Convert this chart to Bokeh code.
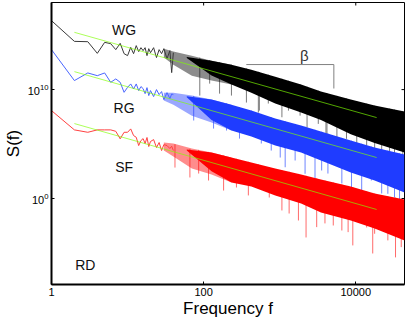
import numpy as np
from bokeh.plotting import figure
from bokeh.models import FixedTicker, NumeralTickFormatter, LogTickFormatter, Range1d, Label
from bokeh.embed import file_html
from bokeh.resources import INLINE

# ---- axes ----
x_ticks = [1, 100, 10000]
y_ticks = [1, 1e10]
x_lim = [1, 43700]
y_lim_exp = [-7.9, 18.0]

# ---- low-frequency part (individual points), log10 S ----
low_freq = [1, 2, 3, 4, 5, 6, 7, 8, 9, 10, 11, 12, 13, 14, 15,
            16, 17, 18, 19, 20, 22, 24, 26, 28, 30, 33, 36, 38, 40]
wg_low = [16.33, 14.43, 14.40, 13.33, 14.34, 14.22, 13.67, 14.25, 13.30, 13.12, 13.88, 13.30, 14.04, 13.49, 13.85,
          13.58, 13.85, 13.12, 13.76, 13.39, 13.85, 12.94, 13.67, 13.30, 13.76, 12.84, 13.58, 11.56, 13.39]
rg_low = [13.67, 10.83, 11.53, 11.28, 11.53, 10.67, 10.98, 10.67, 9.75, 10.21, 10.52, 10.06, 10.52, 9.91, 10.28,
          10.09, 9.63, 10.18, 9.45, 9.91, 9.36, 10.00, 9.54, 9.82, 9.08, 9.72, 9.17, 9.60, 9.54]
sf_low = [8.07, 6.30, 6.08, 6.30, 6.30, 6.30, 6.17, 5.48, 6.08, 6.08, 6.39, 5.78, 5.62, 4.86, 5.32,
          5.50, 5.05, 5.60, 4.77, 5.23, 5.41, 4.68, 5.14, 4.40, 4.95, 4.86, 4.59, 4.80, 4.40]

# ---- sparse part (30 < f < 250): envelope of the zigzag, log10 S ----
sparse_freq = [30, 40, 70, 127, 232]
wg_sp_top = [13.76, 13.49, 13.12, 12.66, 12.29]
wg_sp_bot = [12.94, 12.29, 11.28, 10.83, 10.46]
rg_sp_top = [9.72, 9.70, 9.45, 9.08, 8.62]
rg_sp_bot = [9.00, 8.60, 7.61, 6.97, 6.24]
sf_sp_top = [5.14, 5.05, 4.59, 4.22, 3.76]
sf_sp_bot = [4.40, 3.85, 2.75, 2.20, 1.47]

# ---- dense part: envelope of the noisy spectra, log10 S ----
band_freq = [60, 127, 232, 424, 874, 1910, 3485, 8600, 17700, 43700]
wg_top = [13.00, 12.66, 12.29, 11.83, 11.19, 10.46, 9.82, 9.08, 8.53, 7.98]
wg_bot = [12.90, 11.30, 10.46, 9.72, 8.72, 7.89, 7.20, 5.90, 5.10, 4.22]
rg_top = [9.40, 9.08, 8.62, 8.07, 7.34, 6.70, 6.15, 5.32, 4.68, 4.04]
rg_bot = [9.30, 7.20, 6.24, 5.69, 4.86, 4.22, 3.49, 2.39, 1.65, 0.55]
sf_top = [4.50, 4.22, 3.76, 3.30, 2.75, 2.20, 1.74, 1.10, 0.46, -0.09]
sf_bot = [4.40, 2.50, 1.47, 1.10, 0.28, -0.46, -1.28, -2.02, -2.75, -3.85]

# ---- downward spikes (frequency, log10 S of the spike tip) ----
wg_spike_f = [89, 120, 162, 232, 365, 524, 540, 708, 1069, 1303, 1853, 2288, 3215, 4055, 4180, 5650, 7550,
              10300, 13900, 17700, 21900, 27800, 32300, 41500]
wg_spike_s = [9.45, 10.55, 9.63, 9.45, 8.81, 7.89, 8.07, 8.72, 7.46, 8.07, 7.61, 6.51, 6.85, 5.05, 5.78, 4.40, 5.48,
              4.40, 4.86, 4.40, 3.49, 4.10, 2.84, 3.49]
rg_spike_f = [74, 135, 200, 296, 424, 573, 774, 1016, 1180, 1595, 2155, 2911, 3560, 4305, 6560, 8790,
              11960, 16000, 21900, 26400, 32300, 37600]
rg_spike_s = [7.16, 6.42, 6.24, 5.50, 5.96, 5.05, 4.40, 3.76, 2.87, 3.49, 2.27, 1.47, 2.57, 2.29, 1.38, 1.04,
              0.73, 1.65, 0.46, 0.43, 0.09, -0.18]
sf_spike_f = [42, 66, 86, 116, 183, 270, 387, 524, 729, 1069, 1330, 1762, 2220, 3063, 3935, 5060, 6560, 7930,
              9140, 13900, 16700, 17700, 26400, 33300, 39600]
sf_spike_s = [2.84, 1.93, 2.29, 1.65, 0.73, 1.01, 0.28, 1.01, 0.09, -1.10, -1.38, -2.02, -3.58, -2.63, -2.29,
              -2.48, -2.94, -3.09, -4.31, -2.66, -5.05, -3.24, -3.85, -5.41, -4.47]

# ---- power-law fits (end points), log10 S ----
fit_freq = [2, 18800]
wg_fit = [15.26, 7.43]
rg_fit = [11.65, 3.76]
sf_fit = [6.88, -1.01]

# ---- beta bracket ----
beta_f = [364, 5150, 5150]
beta_s = [12.3, 12.3, 10.1]
beta_label_pos = [2100, 13.1]

# ---- curve labels ----
labels = ["WG", "RG", "SF", "RD"]
label_f = [9, 9, 9, 2.78]
label_s = [15.5, 8.35, 2.85, -6.15]

FONT = "Liberation Sans"

p = figure(width=409, height=322, x_axis_type="log", y_axis_type="log",
           x_range=Range1d(x_lim[0], x_lim[1]),
           y_range=Range1d(10 ** y_lim_exp[0], 10 ** y_lim_exp[1]),
           output_backend="svg", toolbar_location=None,
           min_border_left=49, min_border_right=5, min_border_top=2, min_border_bottom=38)
p.grid.visible = False
p.outline_line_color = "black"
p.outline_line_width = 1
p.background_fill_color = "white"
p.border_fill_color = "white"

def style_axis(ax):
    ax.major_tick_in = 3
    ax.major_tick_out = 0
    ax.minor_tick_line_color = None
    ax.axis_line_width = 2
    ax.major_tick_line_width = 1
    ax.axis_line_color = "black"
    ax.major_label_text_font = FONT
    ax.major_label_text_font_size = "11px"
    ax.major_label_text_color = "black"
    ax.axis_label_text_font = FONT
    ax.axis_label_text_font_style = "normal"
    ax.axis_label_text_font_size = "17px"
    ax.axis_label_text_color = "black"

xa = p.xaxis[0]
xa.ticker = FixedTicker(ticks=x_ticks)
xa.formatter = NumeralTickFormatter(format="0")
style_axis(xa)
xa.axis_label = "Frequency f"
xa.major_label_standoff = 3
xa.axis_label_standoff = 0

ya = p.yaxis[0]
ya.ticker = FixedTicker(ticks=y_ticks)
ya.formatter = LogTickFormatter()
style_axis(ya)
ya.axis_label = "S(f)"
ya.major_label_standoff = 3
ya.axis_label_standoff = 2

# mirrored inward ticks on the top and right edges (half of each dash is clipped by the frame)
p.scatter(x=x_ticks, y=[10 ** y_lim_exp[1]] * len(x_ticks), marker="dash", angle=np.pi / 2,
          size=6, line_color="black", line_width=1)
p.scatter(x=[x_lim[1]] * len(y_ticks), y=y_ticks, marker="dash",
          size=6, line_color="black", line_width=1)

series = [
    (wg_low, wg_sp_top, wg_sp_bot, wg_top, wg_bot, wg_spike_f, wg_spike_s, "#000000", "#3a3a3a", "#7a7a7a"),
    (rg_low, rg_sp_top, rg_sp_bot, rg_top, rg_bot, rg_spike_f, rg_spike_s, "#1f3cff", "#4a66ff", "#6f86ff"),
    (sf_low, sf_sp_top, sf_sp_bot, sf_top, sf_bot, sf_spike_f, sf_spike_s, "#ff0000", "#ff4040", "#ff6a6a"),
]
lbf = np.log10(band_freq + sparse_freq)
order = np.argsort(lbf)
for low, sp_top, sp_bot, top_e, bot_e, spf, sps, col, lowcol, spcol in series:
    all_top = np.array(top_e + sp_top)
    start = np.interp(np.log10(spf), lbf[order], all_top[order])
    p.segment(x0=spf, y0=10 ** start, x1=spf, y1=10 ** np.array(sps),
              line_color=spcol, line_width=1)
    p.varea(x=sparse_freq, y1=10 ** np.array(sp_bot), y2=10 ** np.array(sp_top),
            fill_color=col, fill_alpha=0.45)
    p.varea(x=band_freq, y1=10 ** np.array(bot_e), y2=10 ** np.array(top_e),
            fill_color=col, fill_alpha=1.0)
    p.line(low_freq, 10 ** np.array(low), line_color=lowcol, line_width=1)

for fit in (wg_fit, rg_fit, sf_fit):
    p.line(fit_freq, 10 ** np.array(fit), line_color="#80ff00", line_alpha=0.65, line_width=1)

p.line(beta_f, 10 ** np.array(beta_s), line_color="#808080", line_width=1)
p.add_layout(Label(x=beta_label_pos[0], y=10 ** beta_label_pos[1], text="β",
                   text_font=FONT, text_font_size="15px", text_color="#333333",
                   text_align="center", text_baseline="middle"))

for t, f, s in zip(labels, label_f, label_s):
    p.add_layout(Label(x=f, y=10 ** s, text=t, text_font=FONT, text_font_size="14px",
                       text_color="#111111", text_align="center", text_baseline="middle"))

open("out.html", "w").write(file_html(p, INLINE))
